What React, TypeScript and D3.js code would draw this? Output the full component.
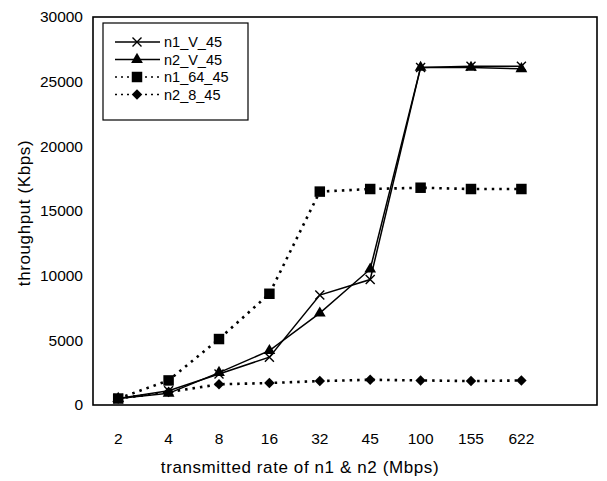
import * as d3 from 'd3'

const rates = ['2', '4', '8', '16', '32', '45', '100', '155', '622']
const n1V45 = [500, 1100, 2400, 3700, 8500, 9700, 26100, 26200, 26200]
const n2V45 = [500, 900, 2500, 4200, 7100, 10500, 26100, 26100, 26000]
const n1_64_45 = [500, 1900, 5100, 8600, 16500, 16700, 16800, 16700, 16700]
const n2_8_45 = [500, 1000, 1600, 1700, 1850, 1950, 1900, 1850, 1900]
const yTicks = [0, 5000, 10000, 15000, 20000, 25000, 30000]

const series = [
  { name: 'n1_V_45', values: n1V45, dash: null, marker: 'cross' },
  { name: 'n2_V_45', values: n2V45, dash: null, marker: 'triangle' },
  { name: 'n1_64_45', values: n1_64_45, dash: '2.5,5', marker: 'square' },
  { name: 'n2_8_45', values: n2_8_45, dash: '2.5,5', marker: 'diamond' },
]

const W = 607
const H = 481
const frame = { left: 93, right: 597, top: 17, bottom: 405 }
const font = '"Liberation Sans", Arial, sans-serif'

function Marker({ kind, x, y }: { kind: string; x: number; y: number }) {
  if (kind === 'cross') {
    const s = 4.5
    return (
      <path d={`M${x - s},${y - s}L${x + s},${y + s}M${x - s},${y + s}L${x + s},${y - s}`}
        stroke="#000" strokeWidth={1.4} />
    )
  }
  const sym = kind === 'triangle' ? d3.symbolTriangle : kind === 'square' ? d3.symbolSquare : d3.symbolDiamond2
  const size = kind === 'square' ? 110 : kind === 'triangle' ? 60 : 70
  return <path transform={`translate(${x},${y})`} d={d3.symbol(sym, size)() ?? ''} fill="#000" />
}

export default function App() {
  // one empty slot on the right, like the original
  const x = d3.scaleBand<string>()
    .domain([...rates, ''])
    .range([frame.left, frame.right])
  const cx = (c: string) => (x(c) ?? 0) + x.bandwidth() / 2

  const y = d3.scaleLinear().domain([0, 30000]).range([frame.bottom, frame.top])

  const line = d3.line<number>()
    .x((_, i) => cx(rates[i]))
    .y(v => y(v))

  const legend = { x: 103, y: 23, w: 145, h: 97 }

  return (
    <svg width={W} height={H} style={{ position: 'absolute', left: 0, top: 0, background: '#fff' }}
      fontFamily={font}>
      <rect x={0} y={0} width={W} height={H} fill="#fff" />
      <rect x={frame.left} y={frame.top} width={frame.right - frame.left} height={frame.bottom - frame.top}
        fill="none" stroke="#000" strokeWidth={1.6} />

      {yTicks.map(t =>
        <text key={t} x={83} y={y(t)} dy="0.35em" textAnchor="end" fontSize={15.5}>{t}</text>
      )}
      {rates.map(r =>
        <text key={r} x={cx(r)} y={444} textAnchor="middle" fontSize={15.5}>{r}</text>
      )}

      <text x={300} y={473} textAnchor="middle" fontSize={17} letterSpacing={0.6}>transmitted rate of n1 &amp; n2 (Mbps)</text>
      <text transform={`translate(30,${(frame.top + frame.bottom) / 2 + 2}) rotate(-90)`} textAnchor="middle"
        fontSize={17} letterSpacing={0.6}>throughput (Kbps)</text>

      {series.map(s =>
        <g key={s.name}>
          <path d={line(s.values) ?? ''} fill="none" stroke="#000"
            strokeWidth={s.dash ? 2.6 : 1.5} strokeDasharray={s.dash ?? undefined} />
          {s.values.map((v, i) => <Marker key={i} kind={s.marker} x={cx(rates[i])} y={y(v)} />)}
        </g>
      )}

      <rect x={legend.x} y={legend.y} width={legend.w} height={legend.h} fill="#fff" stroke="#000" strokeWidth={1.2} />
      {series.map((s, i) => {
        const ly = legend.y + 19 + i * 17.5
        return (
          <g key={s.name}>
            <line x1={115} x2={160} y1={ly} y2={ly} stroke="#000"
              strokeWidth={s.dash ? 1.5 : 1.3} strokeDasharray={s.dash ? '2,4' : undefined} />
            <Marker kind={s.marker} x={137} y={ly} />
            <text x={164} y={ly} dy="0.35em" fontSize={14.5}>{s.name}</text>
          </g>
        )
      })}
    </svg>
  )
}
